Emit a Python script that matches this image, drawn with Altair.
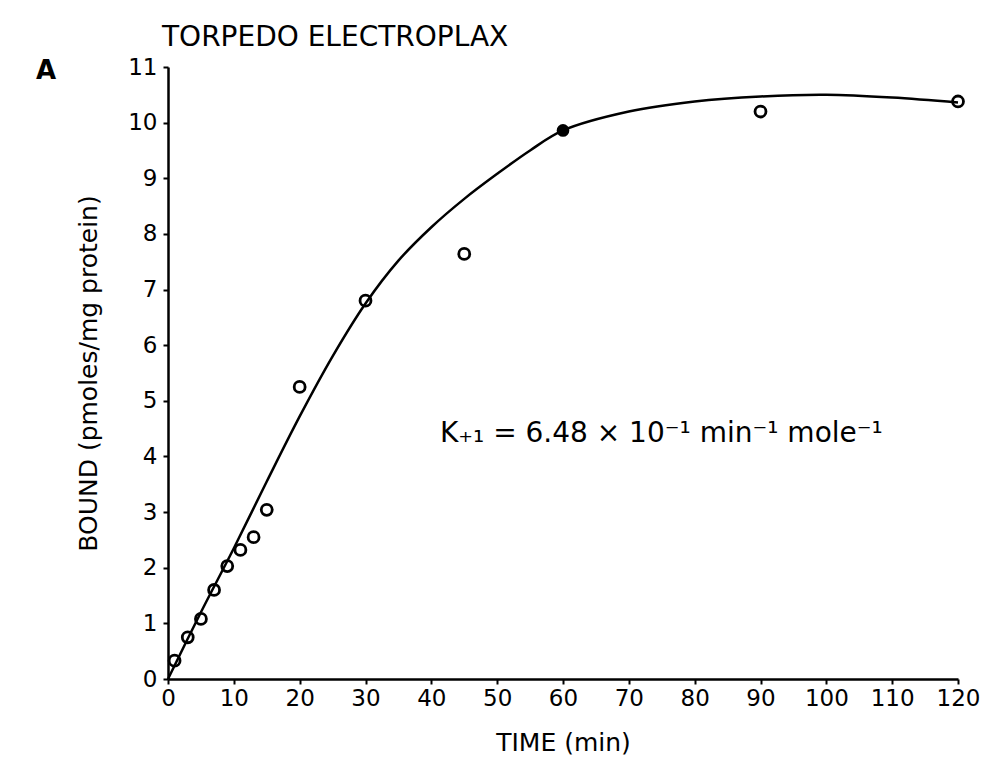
import altair as alt
import pandas as pd

# Observed data (open circles)
obs_time = [1, 3, 5, 7, 9, 11, 13, 15, 20, 30, 45, 90, 120]
obs_bound = [0.33, 0.75, 1.08, 1.6, 2.03, 2.32, 2.55, 3.04, 5.25, 6.8, 7.64, 10.2, 10.38]

# Filled point
fill_time = [60]
fill_bound = [9.86]

# Fitted curve
fit_time = [0, 5, 10, 15, 20, 25, 30, 35, 40, 45, 50, 55, 60, 70, 80, 90, 100, 110, 120]
fit_bound = [0, 1.2, 2.35, 3.55, 4.72, 5.8, 6.75, 7.52, 8.12, 8.63, 9.08, 9.5, 9.86,
             10.2, 10.38, 10.47, 10.5, 10.45, 10.36]

x_ticks = list(range(0, 121, 10))
y_ticks = list(range(0, 12))

obs = pd.DataFrame({"t": obs_time, "b": obs_bound})
filled = pd.DataFrame({"t": fill_time, "b": fill_bound})
fit = pd.DataFrame({"t": fit_time, "b": fit_bound})
ann = pd.DataFrame({"t": [41.3], "b": [4.4], "label": ["K₊₁ = 6.48 × 10⁻¹ min⁻¹ mole⁻¹"]})
panel = pd.DataFrame({"label": ["A"]})

FONT = "DejaVu Sans"

xscale = alt.Scale(domain=[0, 120], nice=False, zero=False)
yscale = alt.Scale(domain=[0, 11], nice=False, zero=False)

xaxis = alt.Axis(values=x_ticks, format="d", title="TIME (min)", grid=False, labelFontSize=23,
                 titleFontSize=25, titleFontWeight="normal", labelPadding=3,
                 tickSize=5, tickWidth=2, domainWidth=2.5, titlePadding=20,
                 labelFlush=False, labelOverlap=False,
                 domainColor="black", tickColor="black", labelColor="black",
                 titleColor="black", labelFont=FONT, titleFont=FONT)
yaxis = alt.Axis(values=y_ticks, format="d", title="BOUND (pmoles/mg protein)", grid=False,
                 labelFontSize=23, titleFontSize=25, titleFontWeight="normal",
                 labelPadding=6, tickSize=5, tickWidth=2, domainWidth=2.5,
                 labelFlush=False, labelOverlap=False,
                 titlePadding=26, domainColor="black", tickColor="black",
                 labelColor="black", titleColor="black", labelFont=FONT, titleFont=FONT)

line = alt.Chart(fit).mark_line(color="black", strokeWidth=2.5, interpolate="catmull-rom").encode(
    x=alt.X("t:Q", scale=xscale, axis=xaxis),
    y=alt.Y("b:Q", scale=yscale, axis=yaxis),
)

pts = alt.Chart(obs).mark_point(shape="circle", filled=False, color="black",
                                 strokeWidth=2.8, size=120, opacity=1).encode(
    x=alt.X("t:Q", scale=xscale), y=alt.Y("b:Q", scale=yscale))

fpts = alt.Chart(filled).mark_point(shape="circle", filled=True, color="black",
                                     size=160, opacity=1).encode(
    x=alt.X("t:Q", scale=xscale), y=alt.Y("b:Q", scale=yscale))

txt = alt.Chart(ann).mark_text(align="left", baseline="middle", fontSize=28,
                               font=FONT, color="black").encode(
    x=alt.X("t:Q", scale=xscale), y=alt.Y("b:Q", scale=yscale), text="label:N")

lab = alt.Chart(panel).mark_text(align="left", baseline="middle", fontSize=26,
                                 fontWeight="bold", font=FONT, color="black").encode(
    x=alt.value(-132), y=alt.value(4), text="label:N")

chart = alt.layer(line, pts, fpts, txt, lab).properties(
    width=790, height=612,
    autosize=alt.AutoSizeParams(type="none"),
    padding={"left": 168, "top": 67, "right": 30, "bottom": 82},
    title=alt.TitleParams("TORPEDO ELECTROPLAX", anchor="start", frame="group", dx=-6,
                          offset=4, fontSize=28, fontWeight="normal", font=FONT,
                          color="black"),
).configure(background="white").configure_view(stroke=None, strokeWidth=0)

chart.save("out.html", embed_options={"renderer": "svg", "actions": False})
